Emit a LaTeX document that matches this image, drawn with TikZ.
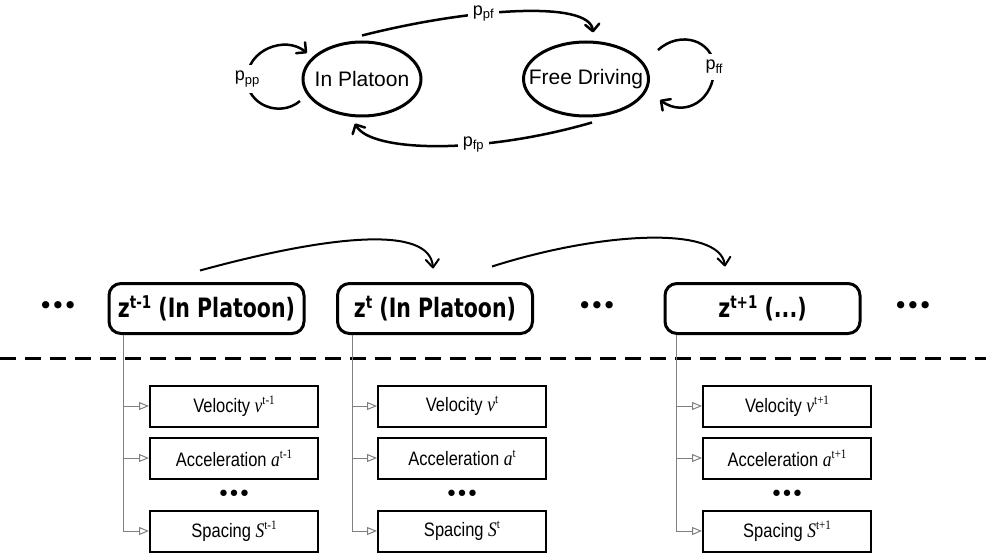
\documentclass[tikz,border=0pt]{standalone}
\usepackage{fontspec}
\usepackage{graphicx}
\setmainfont{Liberation Sans}
\newfontfamily\tnr{Liberation Serif}
\newfontfamily\djv{DejaVu Sans}
\usetikzlibrary{arrows.meta,shapes.geometric}
\definecolor{lgray}{RGB}{128,128,128}
\newcommand\plab[1]{p\raisebox{-3.5pt}{\fontsize{13}{13}\selectfont #1}}
\newcommand\zlab[2]{\scalebox{1}[1.3]{\djv\bfseries\fontsize{20.5}{24}\selectfont z\raisebox{7pt}{\fontsize{13.5}{14}\selectfont #1} #2}}
\newcommand\vsup[2]{{\tnr\itshape\fontsize{17.5}{20}\selectfont #1}\raisebox{6.5pt}{\tnr\fontsize{11}{12}\selectfont #2}}
\newcommand\sublab[1]{\scalebox{1}[1.18]{#1}}
\newcommand\tridots{•\kern-2.5pt•\kern-2.5pt•}
\begin{document}
\begin{tikzpicture}[x=1pt,y=-1pt,
  state/.style={ellipse, draw, line width=3pt, minimum width=118pt, minimum height=74pt, inner sep=0pt, font=\fontsize{21}{24}\selectfont},
  zbox/.style={draw, rounded corners=12pt, line width=3pt, minimum width=195pt, minimum height=50pt, inner sep=0pt},
  subbox/.style={draw, line width=2pt, minimum width=168pt, minimum height=41pt, inner sep=0pt, font=\fontsize{16.5}{20}\selectfont},
  tarr/.style={line width=2.5pt, -{Straight Barb[length=7pt,width=14pt,round]}},
  barr/.style={line width=2pt, -{Straight Barb[length=8pt,width=13pt,round]}},
  garr/.style={draw=lgray, line width=1pt, -{Triangle[open,length=10pt,width=8pt]}},
  plabel/.style={fill=white, inner sep=5pt, font=\fontsize{18}{20}\selectfont},
  bigdots/.style={font=\djv\fontsize{25}{25}\selectfont, inner sep=0pt},
  smalldots/.style={font=\djv\fontsize{22}{22}\selectfont, inner sep=0pt},
  dashline/.style={line width=3pt, dash pattern=on 16pt off 9pt}
]
\useasboundingbox (0,0) rectangle (986,559);

% ---- state diagram ----
\node[state] (ip) at (362,79) {\makebox[0pt]{In Platoon}};
\node[state, minimum width=125pt] (fd) at (586,79) {\makebox[0pt]{Free Driving}};

\draw[tarr] ([yshift=5pt]ip.north) .. controls (470,8) and (590,0) .. ([shift={(7pt,8pt)}]fd.north)
  node[plabel, pos=0.38] (lpf) {\plab{pf}};
\draw[tarr] ([shift={(6pt,-5pt)}]fd.south) .. controls (480,155) and (370,152) .. ([shift={(-7pt,-6pt)}]ip.south)
  node[plabel, pos=0.37] (lfp) {\plab{fp}};
\draw[tarr] ([shift={(-62pt,-22pt)}]ip.center) .. controls (280,118) and (247,105) .. (247,79)
  node[plabel, inner sep=6pt] (lpp) {\plab{pp}}
  .. controls (247,50) and (285,35) .. ([shift={(-55pt,26pt)}]ip.center);
\draw[tarr] ([shift={(72pt,29pt)}]fd.center) .. controls (680,30) and (713,40) .. (714,67)
  node[plabel, inner sep=6pt] (lff) {\plab{ff}}
  .. controls (715,100) and (685,118) .. ([shift={(74pt,-21pt)}]fd.center);

% ---- time slices ----
\node[bigdots] (d0) at (58,308) {\tridots};
\node[zbox] (z1) at (206.5,308.5) {\zlab{t-1}{(In Platoon)}};
\node[zbox] (z2) at (435,308.5) {\zlab{t}{(In Platoon)}};
\node[bigdots] (d1) at (597,308) {\tridots};
\node[zbox] (z3) at (762.5,308.5) {\zlab{t+1}{(...)}};
\node[bigdots] (d2) at (913,308) {\tridots};

\draw[barr] ([shift={(-6.5pt,11.5pt)}]z1.north) .. controls (330,235) and (430,225) .. ([shift={(-2pt,13.5pt)}]z2.north);
\draw[barr] ([shift={(57pt,15.5pt)}]z2.north) .. controls (600,232) and (720,225) .. ([shift={(-37.5pt,15.5pt)}]z3.north);

\draw[dashline] (0,358) -- (986,358);

% ---- observation boxes ----
\node[subbox] (v1) at (234,406) {\sublab{Velocity \vsup{v}{t-1}}};
\node[subbox] (a1) at (234,458) {\sublab{Acceleration \vsup{a}{t-1}}};
\node[smalldots] (e1) at (234,496) {\tridots};
\node[subbox] (s1) at (234,531) {\sublab{Spacing \vsup{S}{t-1}}};

\node[subbox] (v2) at (462,406) {\sublab{Velocity \vsup{v}{t}}};
\node[subbox] (a2) at (462,458) {\sublab{Acceleration \vsup{a}{t}}};
\node[smalldots] (e2) at (462,496) {\tridots};
\node[subbox] (s2) at (462,531) {\sublab{Spacing \vsup{S}{t}}};

\node[subbox] (v3) at (787,406) {\sublab{Velocity \vsup{v}{t+1}}};
\node[subbox] (a3) at (787,458) {\sublab{Acceleration \vsup{a}{t+1}}};
\node[smalldots] (e3) at (787,496) {\tridots};
\node[subbox] (s3) at (787,531) {\sublab{Spacing \vsup{S}{t+1}}};

\foreach \z/\dx/\i in {z1/-83.5/1, z2/-83/2, z3/-86.5/3}{
  \draw[garr] ([xshift=\dx pt]\z.south) |- (v\i.west);
  \draw[garr] ([xshift=\dx pt]\z.south) |- (a\i.west);
  \draw[garr] ([xshift=\dx pt]\z.south) |- (s\i.west);
}
\end{tikzpicture}
\end{document}
